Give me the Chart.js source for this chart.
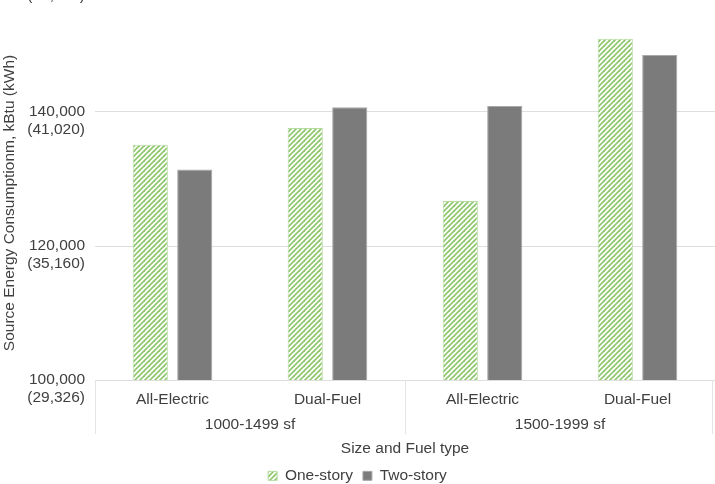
<!DOCTYPE html>
<html>
<head>
<meta charset="utf-8">
<script src="https://cdn.jsdelivr.net/npm/chart.js@4.4.1/dist/chart.umd.min.js"></script>
<style>
  html, body { margin: 0; padding: 0; background: #fff; overflow: hidden; }
  #wrap { position: absolute; left: 0; top: -50px; width: 715px; height: 534px; }
</style>
</head>
<body>
<div id="wrap"><canvas id="energy-chart" width="715" height="534"></canvas></div>
<script>
// chart data
const categories = ["All-Electric", "Dual-Fuel", "All-Electric", "Dual-Fuel"];
const sizeGroups = ["1000-1499 sf", "1500-1999 sf"];
const oneStory = [135100, 137600, 126700, 150900];
const twoStory = [131400, 140700, 140900, 148500];
const yTicks = [100000, 120000, 140000, 160000];
const kwhLabels = ["(29,326)", "(35,160)", "(41,020)", "(46,880)"];

const OFFSET = 50; // canvas is shifted up, top of plot sits above the window
const textColor = "#404040";
const fontFamily = "'Liberation Sans', Arial, sans-serif";

function makeHatch() {
    const c = document.createElement("canvas");
    c.width = 5; c.height = 5;
    const g = c.getContext("2d");
    g.fillStyle = "#ffffff";
    g.fillRect(0, 0, 5, 5);
    g.strokeStyle = "#93c872";
    g.lineWidth = 1.8;
    [[-5, 5], [0, 10], [0, 5], [5, 10]].forEach(([a, b]) => {
        g.beginPath();
        g.moveTo(a, b);
        g.lineTo(a + 10, b - 10);
        g.stroke();
    });
    return c.getContext("2d").createPattern(c, "repeat");
}

// separators for the two-level category axis and rotated y title
const axisExtras = {
    id: "axisExtras",
    afterDraw(chart) {
        const { ctx, scales } = chart;
        const x = scales.x;
        const mid = (x.getPixelForValue(1) + x.getPixelForValue(2)) / 2;
        ctx.save();
        ctx.strokeStyle = "#e4e4e4";
        ctx.lineWidth = 1;
        [x.left, mid, x.right - 3].forEach(px => {
            ctx.beginPath();
            ctx.moveTo(Math.round(px) + 0.5, x.top);
            ctx.lineTo(Math.round(px) + 0.5, x.top + 54);
            ctx.stroke();
        });
        ctx.fillStyle = textColor;
        ctx.font = "15.5px " + fontFamily;
        ctx.textAlign = "center";
        ctx.textBaseline = "middle";
        ctx.translate(10, 203 + OFFSET);
        ctx.rotate(-Math.PI / 2);
        ctx.fillText("Source Energy Consumptionm, kBtu (kWh)", 0, 0);
        ctx.restore();
    }
};

const canvas = document.getElementById("energy-chart");
const ctx = canvas.getContext("2d");

new Chart(ctx, {
    type: "bar",
    data: {
        labels: categories,
        datasets: [{
            label: "One-story",
            data: oneStory,
            backgroundColor: makeHatch(),
            borderColor: "#b5dba0",
            borderWidth: 1,
        }, {
            label: "Two-story",
            data: twoStory,
            backgroundColor: "#7b7b7b",
            borderColor: "#a8a8a8",
            borderWidth: 1,
        }]
    },
    options: {
        responsive: false,
        animation: false,
        categoryPercentage: 0.574,
        barPercentage: 0.79,
        layout: { padding: { top: 3, left: 0, right: 0, bottom: -9.6 } },
        plugins: {
            legend: {
                position: "bottom",
                labels: {
                    color: textColor,
                    font: { family: fontFamily, size: 15.5 },
                    boxWidth: 9,
                    boxHeight: 9,
                    padding: 10,
                }
            },
            tooltip: { enabled: false },
        },
        scales: {
            y: {
                min: 100000,
                max: 160000,
                afterFit: s => { s.width = 95; },
                afterBuildTicks: s => { s.ticks = yTicks.map(v => ({ value: v })); },
                grid: { color: "#dedede", drawTicks: false },
                border: { display: false },
                ticks: {
                    padding: 10,
                    labelOffset: 9,
                    color: textColor,
                    font: { family: fontFamily, size: 15.5, lineHeight: 1.15 },
                    callback: (v) => {
                        const i = yTicks.indexOf(v);
                        return [v.toLocaleString("en-US"), kwhLabels[i]];
                    }
                }
            },
            x: {
                weight: 0,
                afterFit: s => { s.height = 26; },
                grid: { display: false, drawTicks: false },
                border: { display: true, color: "#dedede" },
                ticks: {
                    padding: 10,
                    color: textColor,
                    maxRotation: 0,
                    font: { family: fontFamily, size: 15.5 },
                }
            },
            x2: {
                type: "category",
                labels: sizeGroups,
                position: "bottom",
                axis: "x",
                offset: true,
                weight: 1,
                afterFit: s => { s.height = 52; },
                grid: { display: false, drawTicks: false },
                border: { display: false },
                ticks: {
                    padding: 9,
                    color: textColor,
                    maxRotation: 0,
                    font: { family: fontFamily, size: 15.5 },
                },
                title: {
                    display: true,
                    text: "Size and Fuel type",
                    color: textColor,
                    font: { family: fontFamily, size: 15.5 },
                    padding: { top: 6, bottom: 0 },
                }
            }
        }
    },
    plugins: [axisExtras]
});
</script>
</body>
</html>
